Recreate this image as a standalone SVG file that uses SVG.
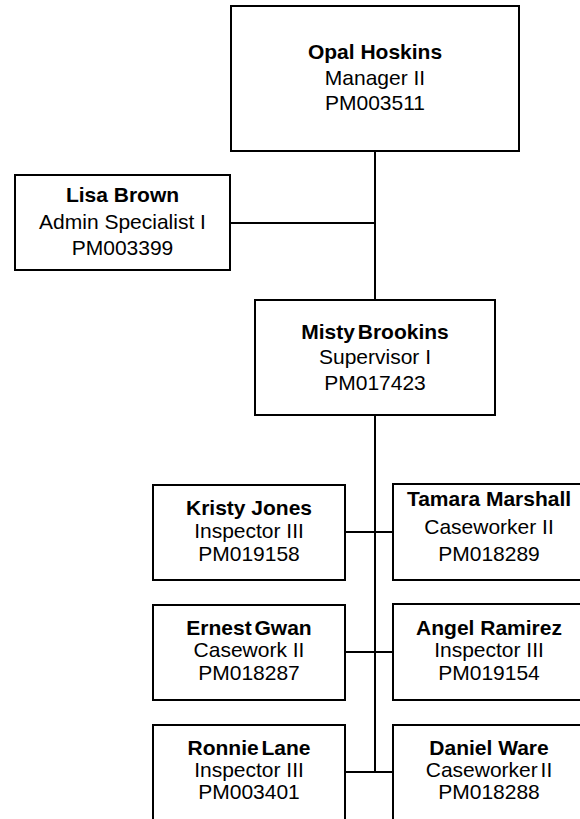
<svg xmlns="http://www.w3.org/2000/svg" width="580" height="819" viewBox="0 0 580 819">
<style>
.box{fill:#fff;stroke:#000;stroke-width:2}
.ln{stroke:#000;stroke-width:2;fill:none}
text{font-family:"Liberation Sans",Arial,sans-serif;font-size:21px;fill:#000;text-anchor:middle}
.b{font-weight:bold}
.t{word-spacing:-3px}
</style>
<rect width="580" height="819" fill="#fff"/>
<g id="connectors">
<line class="ln" x1="375" y1="151" x2="375" y2="300"/>
<line class="ln" x1="230" y1="223" x2="375" y2="223"/>
<line class="ln" x1="375" y1="415" x2="375" y2="772"/>
<line class="ln" x1="345" y1="532" x2="393" y2="532"/>
<line class="ln" x1="345" y1="652" x2="393" y2="652"/>
<line class="ln" x1="345" y1="772" x2="393" y2="772"/>
</g>
<g id="opal">
<rect class="box" x="231" y="6" width="288" height="145"/>
<text class="b" x="375" y="59">Opal Hoskins</text>
<text x="375" y="85">Manager II</text>
<text x="375" y="110">PM003511</text>
</g>
<g id="lisa">
<rect class="box" x="15" y="175" width="215" height="95"/>
<text class="b" x="122.5" y="202">Lisa Brown</text>
<text x="122.5" y="229">Admin Specialist I</text>
<text x="122.5" y="255">PM003399</text>
</g>
<g id="misty">
<rect class="box" x="255" y="300" width="240" height="115"/>
<text class="b t" x="375" y="339">Misty Brookins</text>
<text x="375" y="364">Supervisor I</text>
<text x="375" y="390">PM017423</text>
</g>
<g id="kristy">
<rect class="box" x="153" y="485" width="192" height="95"/>
<text class="b" x="249" y="515">Kristy Jones</text>
<text x="249" y="538">Inspector III</text>
<text x="249" y="561">PM019158</text>
</g>
<g id="tamara">
<rect class="box" x="393" y="484" width="192" height="96"/>
<text class="b" x="489" y="506">Tamara Marshall</text>
<text x="489" y="534">Caseworker II</text>
<text x="489" y="561">PM018289</text>
</g>
<g id="ernest">
<rect class="box" x="153" y="605" width="192" height="95"/>
<text class="b t" x="249" y="635">Ernest Gwan</text>
<text x="249" y="657">Casework II</text>
<text x="249" y="680">PM018287</text>
</g>
<g id="angel">
<rect class="box" x="393" y="604" width="192" height="96"/>
<text class="b" x="489" y="635">Angel Ramirez</text>
<text x="489" y="657">Inspector III</text>
<text x="489" y="680">PM019154</text>
</g>
<g id="ronnie">
<rect class="box" x="153" y="725" width="192" height="110"/>
<text class="b t" x="249" y="755">Ronnie Lane</text>
<text x="249" y="777">Inspector III</text>
<text x="249" y="799">PM003401</text>
</g>
<g id="daniel">
<rect class="box" x="393" y="725" width="192" height="110"/>
<text class="b" x="489" y="755">Daniel Ware</text>
<text class="t" x="489" y="777">Caseworker II</text>
<text x="489" y="799">PM018288</text>
</g>
</svg>
